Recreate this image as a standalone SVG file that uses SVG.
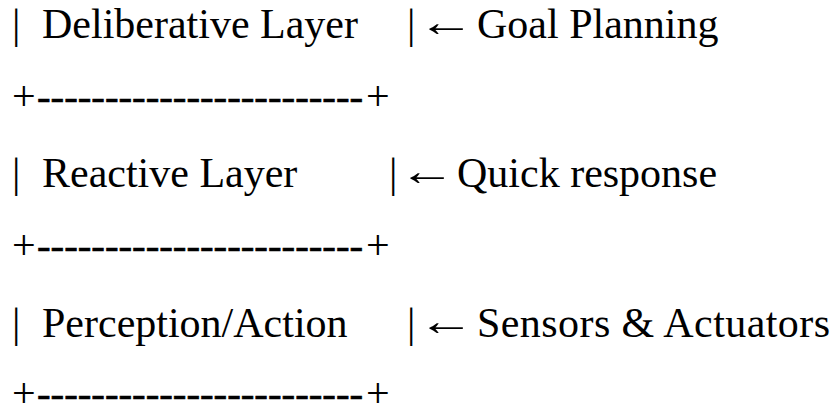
<svg xmlns="http://www.w3.org/2000/svg" width="833" height="410" viewBox="0 0 833 410">
<style>
text{font-family:"Liberation Serif","Times New Roman",serif;font-size:42px;fill:#000}
.d{font-size:40.8px;stroke:#000;stroke-width:0.7}
</style>
<rect width="833" height="410" fill="#fff"/>
<g id="deliberative">
<text x="12" y="38">|</text>
<text x="42" y="38">Deliberative Layer</text>
<text x="407" y="38">|</text>
<text transform="translate(418 36) scale(1.35 1)">←</text>
<text x="477" y="38">Goal Planning</text>
</g>
<g id="sep1">
<text x="12" y="110">+</text>
<text class="d" x="37" y="110">------------------------</text>
<text x="366" y="110">+</text>
</g>
<g id="reactive">
<text x="12" y="187">|</text>
<text x="42" y="187">Reactive Layer</text>
<text x="389" y="187">|</text>
<text transform="translate(399 185) scale(1.35 1)">←</text>
<text x="457" y="187">Quick response</text>
</g>
<g id="sep2">
<text x="12" y="259">+</text>
<text class="d" x="37" y="259">------------------------</text>
<text x="366" y="259">+</text>
</g>
<g id="perception">
<text x="12" y="337">|</text>
<text x="42" y="337">Perception/Action</text>
<text x="407" y="337">|</text>
<text transform="translate(418 335) scale(1.35 1)">←</text>
<text x="477" y="337" textLength="353">Sensors &amp; Actuators</text>
</g>
<g id="sep3">
<text x="12" y="407">+</text>
<text class="d" x="37" y="407">------------------------</text>
<text x="366" y="407">+</text>
</g>
</svg>
